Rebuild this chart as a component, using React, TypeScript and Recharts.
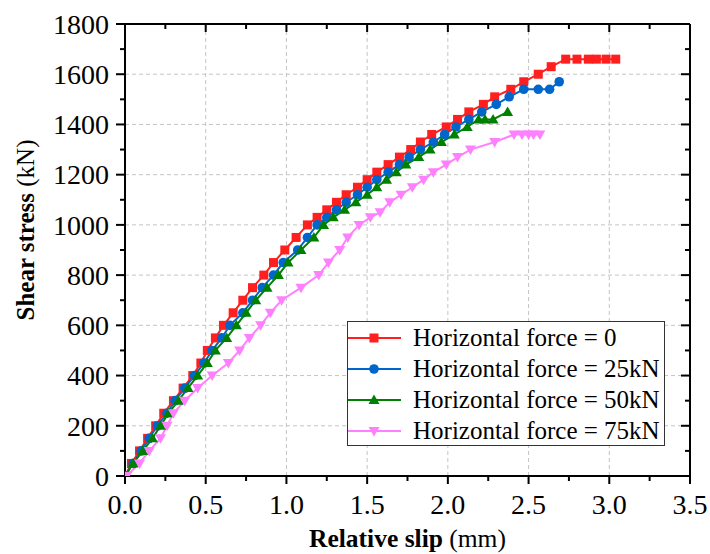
import React from 'react';
import { LineChart, Line, XAxis, YAxis, CartesianGrid, Legend, Label } from 'recharts';

// the chart fills the whole window, so drop the default body margin
if (typeof document !== 'undefined') {
  document.body.style.margin = '0';
  document.documentElement.style.overflow = 'hidden';
}

// Horizontal force = 0
const slip0 = [0, 0.04, 0.09, 0.14, 0.19, 0.24, 0.3, 0.36, 0.42, 0.47, 0.51, 0.56, 0.61, 0.67, 0.73, 0.79, 0.86, 0.92, 0.99, 1.06, 1.13, 1.19, 1.25, 1.31, 1.37, 1.44, 1.5, 1.56, 1.63, 1.7, 1.77, 1.83, 1.9, 1.99, 2.06, 2.13, 2.22, 2.29, 2.39, 2.47, 2.56, 2.64, 2.73, 2.8, 2.87, 2.92, 2.98, 3.04];
const load0 = [0, 50, 100, 150, 200, 250, 300, 350, 400, 450, 500, 550, 600, 650, 700, 750, 800, 850, 900, 950, 1000, 1030, 1060, 1090, 1120, 1150, 1180, 1210, 1240, 1270, 1300, 1330, 1360, 1390, 1420, 1450, 1480, 1510, 1540, 1570, 1600, 1630, 1660, 1660, 1660, 1660, 1660, 1660];

// Horizontal force = 25kN
const slip25 = [0, 0.05, 0.1, 0.15, 0.2, 0.26, 0.31, 0.37, 0.43, 0.49, 0.54, 0.6, 0.65, 0.73, 0.79, 0.85, 0.92, 0.98, 1.07, 1.13, 1.19, 1.25, 1.31, 1.37, 1.44, 1.5, 1.56, 1.63, 1.7, 1.76, 1.83, 1.91, 1.98, 2.05, 2.13, 2.21, 2.3, 2.38, 2.47, 2.56, 2.63, 2.69];
const load25 = [0, 50, 100, 150, 200, 250, 300, 350, 400, 450, 500, 550, 600, 650, 700, 750, 800, 850, 900, 950, 1000, 1030, 1060, 1090, 1120, 1150, 1180, 1210, 1240, 1270, 1300, 1330, 1360, 1390, 1420, 1450, 1480, 1510, 1540, 1540, 1540, 1570];

// Horizontal force = 50kN
const slip50 = [0, 0.05, 0.11, 0.17, 0.22, 0.27, 0.33, 0.39, 0.45, 0.51, 0.56, 0.63, 0.69, 0.75, 0.81, 0.88, 0.95, 1.01, 1.09, 1.17, 1.23, 1.29, 1.36, 1.43, 1.5, 1.56, 1.62, 1.68, 1.74, 1.82, 1.89, 1.96, 2.04, 2.12, 2.19, 2.23, 2.28, 2.37];
const load50 = [0, 50, 100, 150, 200, 250, 300, 350, 400, 450, 500, 550, 600, 650, 700, 750, 800, 850, 900, 950, 1000, 1030, 1060, 1090, 1120, 1150, 1180, 1210, 1240, 1270, 1300, 1330, 1360, 1390, 1420, 1420, 1420, 1450];

// Horizontal force = 75kN
const slip75 = [0.01, 0.09, 0.15, 0.22, 0.26, 0.3, 0.37, 0.45, 0.54, 0.64, 0.71, 0.77, 0.84, 0.9, 0.97, 1.09, 1.2, 1.26, 1.33, 1.38, 1.45, 1.52, 1.58, 1.64, 1.71, 1.78, 1.85, 1.91, 1.99, 2.06, 2.14, 2.29, 2.41, 2.46, 2.5, 2.53, 2.57];
const load75 = [0, 50, 100, 150, 200, 250, 300, 350, 400, 450, 500, 550, 600, 650, 700, 750, 800, 850, 900, 950, 1000, 1030, 1050, 1090, 1120, 1150, 1180, 1210, 1240, 1270, 1300, 1330, 1360, 1360, 1360, 1360, 1360];

const seriesNames = ['Horizontal force = 0', 'Horizontal force = 25kN', 'Horizontal force = 50kN', 'Horizontal force = 75kN'];

const xTicks = [0, 0.25, 0.5, 0.75, 1, 1.25, 1.5, 1.75, 2, 2.25, 2.5, 2.75, 3, 3.25, 3.5];
const xGrid = [0.5, 1, 1.5, 2, 2.5, 3];
const yTicks = [0, 100, 200, 300, 400, 500, 600, 700, 800, 900, 1000, 1100, 1200, 1300, 1400, 1500, 1600, 1700, 1800];
const yGrid = [200, 400, 600, 800, 1000, 1200, 1400, 1600];

const FONT = '"Liberation Serif", "Times New Roman", serif';
const W = 710;
const H = 554;
const LEFT = 125;
const TOP = 24;
const RIGHT = 20;
const BOTTOM = 78;

const toPoints = (xs: number[], ys: number[]) => xs.map((x, i) => ({ x, y: ys[i] }));

const series = [
  { name: seriesNames[0], data: toPoints(slip0, load0), color: '#FF1F1F', shape: 'square' },
  { name: seriesNames[1], data: toPoints(slip25, load25), color: '#0066CC', shape: 'circle' },
  { name: seriesNames[2], data: toPoints(slip50, load50), color: '#008000', shape: 'up' },
  { name: seriesNames[3], data: toPoints(slip75, load75), color: '#FF80FF', shape: 'down' },
];

const Marker = ({ shape, cx, cy, color }: any) => {
  if (cx == null || cy == null) return null;
  if (shape === 'square') return <rect x={cx - 4.5} y={cy - 4.5} width={9} height={9} fill={color} />;
  if (shape === 'circle') return <circle cx={cx} cy={cy} r={4.8} fill={color} />;
  if (shape === 'up')
    return <polygon points={`${cx},${cy - 5.5} ${cx + 5.5},${cy + 4} ${cx - 5.5},${cy + 4}`} fill={color} />;
  return <polygon points={`${cx - 5.5},${cy - 4} ${cx + 5.5},${cy - 4} ${cx},${cy + 5.5}`} fill={color} />;
};

const isMajorX = (v: number) => Math.abs(v * 2 - Math.round(v * 2)) < 1e-6;
const isMajorY = (v: number) => v % 200 === 0;

const BottomTick = ({ x, y, payload }: any) => {
  const major = isMajorX(payload.value);
  return (
    <g>
      <line x1={x} x2={x} y1={y} y2={y + (major ? 8 : 5)} stroke="#000" strokeWidth={2} />
      {major && (
        <text x={x} y={y + 38} textAnchor="middle" fontSize={28} fontFamily={FONT} fill="#000">
          {payload.value.toFixed(1)}
        </text>
      )}
    </g>
  );
};

const TopTick = ({ x, y, payload }: any) => (
  <line x1={x} x2={x} y1={y} y2={y + (isMajorX(payload.value) ? 8 : 5)} stroke="#000" strokeWidth={2} />
);

const LeftTick = ({ x, y, payload }: any) => {
  const major = isMajorY(payload.value);
  return (
    <g>
      <line x1={x} x2={x - (major ? 9 : 5)} y1={y} y2={y} stroke="#000" strokeWidth={2} />
      {major && (
        <text x={x - 16} y={y} dy="0.35em" textAnchor="end" fontSize={28} fontFamily={FONT} fill="#000">
          {payload.value}
        </text>
      )}
    </g>
  );
};

const RightTick = ({ x, y, payload }: any) => (
  <line x1={x} x2={x - (isMajorY(payload.value) ? 9 : 5)} y1={y} y2={y} stroke="#000" strokeWidth={2} />
);

const XTitle = () => (
  <text x={LEFT + (W - LEFT - RIGHT) / 2} y={547} textAnchor="middle" fontSize={25.5} fontFamily={FONT} fill="#000">
    <tspan fontWeight="bold">Relative slip</tspan>
    <tspan> (mm)</tspan>
  </text>
);

const YTitle = () => (
  <text
    x={34}
    y={230}
    transform="rotate(-90 34 230)"
    textAnchor="middle"
    fontSize={25}
    fontFamily={FONT}
    fill="#000"
  >
    <tspan fontWeight="bold">Shear stress</tspan>
    <tspan> (kN)</tspan>
  </text>
);

const LegendBox = () => (
  <div
    style={{
      width: 318,
      height: 125,
      boxSizing: 'border-box',
      border: '1px solid #333',
      background: '#fff',
      fontFamily: FONT,
      fontSize: 25,
      color: '#000',
    }}
  >
    {series.map((s) => (
      <div key={s.name} style={{ display: 'flex', alignItems: 'center', height: 31, whiteSpace: 'nowrap' }}>
        <svg width={60} height={20} style={{ flex: 'none' }}>
          <line x1={0} x2={53} y1={10} y2={10} stroke={s.color} strokeWidth={2} />
          <Marker shape={s.shape} cx={26} cy={10} color={s.color} />
        </svg>
        <span style={{ marginLeft: 5, lineHeight: '31px' }}>{s.name}</span>
      </div>
    ))}
  </div>
);

export default function App() {
  return (
    <div style={{ width: W, height: H, fontFamily: FONT }}>
      <LineChart width={W} height={H} margin={{ top: 0, right: 0, bottom: 0, left: 0 }}>
        <CartesianGrid
          stroke="#c4c4c4"
          strokeDasharray="4 3"
          horizontalValues={yGrid}
          verticalValues={xGrid}
        />
        <XAxis
          dataKey="x"
          type="number"
          domain={[0, 3.5]}
          ticks={xTicks}
          interval={0}
          allowDataOverflow
          height={BOTTOM}
          tickSize={0}
          tickMargin={0}
          tick={BottomTick}
          axisLine={{ stroke: '#000', strokeWidth: 2 }}
        >
          <Label content={XTitle} />
        </XAxis>
        <XAxis
          xAxisId="top"
          orientation="top"
          dataKey="x"
          type="number"
          domain={[0, 3.5]}
          ticks={xTicks}
          interval={0}
          allowDataOverflow
          height={TOP}
          tickSize={0}
          tickMargin={0}
          tick={TopTick}
          axisLine={{ stroke: '#000', strokeWidth: 2 }}
        />
        <YAxis
          type="number"
          domain={[0, 1800]}
          ticks={yTicks}
          interval={0}
          allowDataOverflow
          width={LEFT}
          tickSize={0}
          tickMargin={0}
          tick={LeftTick}
          axisLine={{ stroke: '#000', strokeWidth: 2 }}
        >
          <Label content={YTitle} />
        </YAxis>
        <YAxis
          yAxisId="right"
          orientation="right"
          type="number"
          domain={[0, 1800]}
          ticks={yTicks}
          interval={0}
          allowDataOverflow
          width={RIGHT}
          tickSize={0}
          tickMargin={0}
          tick={RightTick}
          axisLine={{ stroke: '#000', strokeWidth: 2 }}
        />
        {series.map((s) => (
          <Line
            key={s.name}
            name={s.name}
            data={s.data}
            dataKey="y"
            type="linear"
            stroke={s.color}
            strokeWidth={2}
            isAnimationActive={false}
            dot={(p: any) => <Marker key={`${s.shape}-${p.index}`} shape={s.shape} cx={p.cx} cy={p.cy} color={s.color} />}
            activeDot={false}
          />
        ))}
        <Legend
          layout="horizontal"
          verticalAlign="middle"
          align="center"
          content={LegendBox}
          wrapperStyle={{ left: 347, top: 321, width: 318, height: 125 }}
        />
      </LineChart>
    </div>
  );
}
